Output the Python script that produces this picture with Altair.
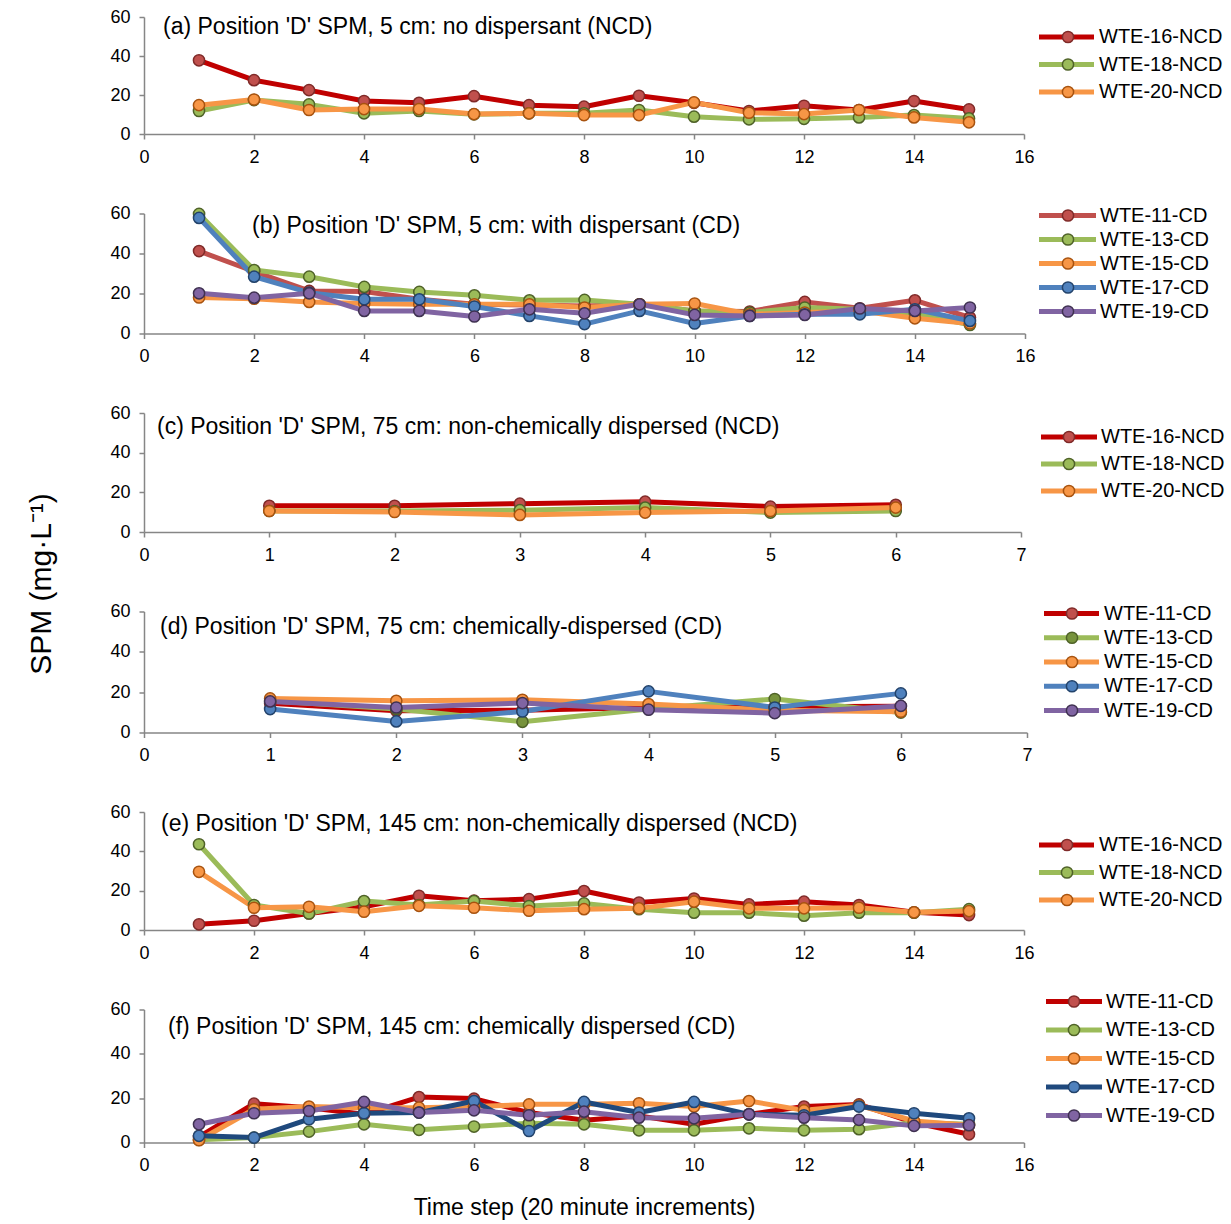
import altair as alt
import pandas as pd

FONT = "Liberation Sans"

# ---------------- data ----------------
t15 = list(range(1, 16))
t6 = list(range(1, 7))

ncd_series = ["WTE-16-NCD", "WTE-18-NCD", "WTE-20-NCD"]
cd_series = ["WTE-11-CD", "WTE-13-CD", "WTE-15-CD", "WTE-17-CD", "WTE-19-CD"]

# (a) 5 cm, NCD
a_16 = [37.8, 27.6, 22.5, 16.9, 16.0, 19.4, 14.8, 14.0, 19.6, 16.0, 11.8, 14.5, 12.3, 16.9, 12.6]
a_18 = [11.8, 17.4, 15.2, 10.6, 11.8, 10.1, 10.6, 10.6, 12.3, 8.9, 7.5, 7.8, 8.5, 9.7, 8.0]
a_20 = [14.8, 17.7, 12.3, 12.8, 12.8, 10.2, 10.6, 9.7, 9.7, 16.2, 10.9, 10.2, 12.3, 8.5, 6.0]

# (b) 5 cm, CD
b_11 = [41.2, 31.0, 21.3, 21.0, 17.1, 14.6, 14.3, 13.8, 14.6, 11.3, 11.0, 15.8, 12.6, 16.6, 8.0]
b_13 = [59.8, 31.7, 28.4, 23.3, 20.8, 19.1, 16.6, 16.8, 14.6, 11.3, 10.5, 13.0, 12.1, 10.0, 4.3]
b_15 = [18.0, 17.4, 15.8, 15.0, 14.6, 14.6, 14.6, 13.0, 14.6, 15.0, 9.6, 10.5, 11.3, 7.6, 5.0]
b_17 = [57.8, 28.4, 20.4, 17.1, 17.1, 13.5, 8.8, 4.7, 11.3, 5.0, 8.8, 9.6, 9.6, 12.1, 6.3]
b_19 = [20.1, 17.9, 20.1, 11.3, 11.3, 8.5, 12.1, 10.1, 14.6, 9.3, 8.8, 9.3, 12.5, 11.3, 13.0]

# (c) 75 cm, NCD
c_16 = [13.2, 13.2, 14.3, 15.3, 12.8, 13.7]
c_18 = [10.6, 10.6, 11.0, 12.3, 9.8, 10.6]
c_20 = [10.6, 10.1, 8.6, 9.8, 10.6, 12.3]

# (d) 75 cm, CD
d_11 = [14.5, 10.8, 11.0, 12.4, 12.8, 13.0]
d_13 = [15.7, 11.6, 5.3, 11.6, 16.6, 9.9]
d_15 = [16.9, 15.7, 16.2, 14.1, 11.0, 10.3]
d_17 = [11.6, 5.5, 10.4, 20.4, 12.4, 19.4]
d_19 = [15.4, 12.4, 14.6, 11.3, 9.6, 13.2]

# (e) 145 cm, NCD
e_16 = [2.9, 4.7, 8.4, 11.8, 17.4, 14.9, 15.7, 19.8, 14.0, 16.0, 13.0, 14.4, 12.7, 9.0, 7.6]
e_18 = [43.6, 12.7, 8.4, 14.7, 12.7, 14.7, 12.2, 13.5, 10.6, 8.8, 8.8, 7.3, 8.8, 8.8, 10.6]
e_20 = [29.6, 11.3, 11.8, 9.3, 12.3, 11.3, 9.8, 10.6, 11.0, 14.4, 11.0, 11.0, 11.3, 9.0, 9.6]

# (f) 145 cm, CD
f_11 = [2.5, 17.5, 15.7, 12.7, 20.5, 19.8, 13.5, 10.0, 12.0, 8.2, 12.7, 16.2, 17.2, 9.0, 3.7]
f_13 = [1.2, 2.2, 4.9, 8.2, 5.7, 7.2, 8.7, 8.2, 5.5, 5.5, 6.4, 5.5, 6.0, 9.0, 8.2]
f_15 = [1.0, 15.0, 16.2, 15.7, 15.7, 16.2, 17.2, 17.2, 17.7, 16.2, 18.7, 14.5, 16.8, 9.7, 7.8]
f_17 = [3.0, 2.2, 10.5, 13.2, 13.5, 18.7, 5.2, 18.3, 13.5, 18.3, 12.7, 12.3, 16.2, 13.2, 10.9]
f_19 = [8.2, 13.2, 14.2, 18.3, 13.5, 14.5, 12.3, 13.9, 11.2, 10.9, 12.7, 11.2, 10.2, 7.5, 7.8]

titles = [
    "(a) Position 'D' SPM, 5 cm: no dispersant (NCD)",
    "(b) Position 'D' SPM, 5 cm: with dispersant (CD)",
    "(c) Position 'D' SPM, 75 cm: non-chemically dispersed (NCD)",
    "(d) Position 'D' SPM, 75 cm: chemically-dispersed (CD)",
    "(e) Position 'D' SPM, 145 cm: non-chemically dispersed (NCD)",
    "(f) Position 'D' SPM, 145 cm: chemically dispersed (CD)",
]

# ---------------- styles ----------------
RED_D, RED, GRN, GRN_D, ORG, BLU, NAVY, PUR = (
    "#C00000", "#C0504D", "#9BBB59", "#77933C", "#F79646", "#4F81BD", "#1F497D", "#8064A2")
S_RED, S_GRN, S_ORG, S_BLU, S_PUR = "#7F2A28", "#4F6228", "#A8530F", "#23436B", "#3F3151"

ncd_line = [RED_D, GRN, ORG]
ncd_fill = [RED, GRN, ORG]
ncd_stroke = [S_RED, S_GRN, S_ORG]

panels = [
    dict(series=ncd_series, vals=[a_16, a_18, a_20], t=t15, xmax=16, step=2,
         line=ncd_line, fill=ncd_fill, stroke=ncd_stroke, h=117, w=880,
         tpos=(19, 10), ly=(20, 75), lx=(895, 950, 924, 955)),
    dict(series=cd_series, vals=[b_11, b_13, b_15, b_17, b_19], t=t15, xmax=16, step=2,
         line=[RED, GRN, ORG, BLU, PUR], fill=[RED, GRN, ORG, BLU, PUR],
         stroke=[S_RED, S_GRN, S_ORG, S_BLU, S_PUR], h=120, w=881,
         tpos=(108, 12), ly=(2, 98), lx=(895, 952, 924, 956)),
    dict(series=ncd_series, vals=[c_16, c_18, c_20], t=t6, xmax=7, step=1,
         line=ncd_line, fill=ncd_fill, stroke=ncd_stroke, h=119, w=877,
         tpos=(13, 14), ly=(24, 78), lx=(897, 953, 925, 957)),
    dict(series=cd_series, vals=[d_11, d_13, d_15, d_17, d_19], t=t6, xmax=7, step=1,
         line=[RED_D, GRN, ORG, BLU, PUR], fill=[RED, GRN_D, ORG, BLU, PUR],
         stroke=[S_RED, S_GRN, S_ORG, S_BLU, S_PUR], h=121, w=883,
         tpos=(16, 15), ly=(2, 99), lx=(900, 955, 928, 960)),
    dict(series=ncd_series, vals=[e_16, e_18, e_20], t=t15, xmax=16, step=2,
         line=ncd_line, fill=ncd_fill, stroke=ncd_stroke, h=118, w=880,
         tpos=(17, 12), ly=(33, 88), lx=(895, 950, 923, 955)),
    dict(series=cd_series, vals=[f_11, f_13, f_15, f_17, f_19], t=t15, xmax=16, step=2,
         line=[RED_D, GRN, ORG, NAVY, PUR], fill=[RED, GRN, ORG, BLU, PUR],
         stroke=[S_RED, S_GRN, S_ORG, S_BLU, S_PUR], h=133, w=880,
         tpos=(24, 17), ly=(-8, 106), lx=(902, 958, 930, 962)),
]

rows = []
for i, p in enumerate(panels):
    recs = []
    for s, v in zip(p["series"], p["vals"]):
        for tt, vv in zip(p["t"], v):
            recs.append({"time": tt, "value": vv, "series": s})
    df = pd.DataFrame(recs)
    sdom = p["series"]

    color_sc = alt.Scale(domain=sdom, range=p["line"])
    fill_sc = alt.Scale(domain=sdom, range=p["fill"])
    stroke_sc = alt.Scale(domain=sdom, range=p["stroke"])

    xaxis_kw = dict(values=list(range(0, p["xmax"] + 1, p["step"])), title=None)
    if i == 5:
        xaxis_kw.update(title="Time step (20 minute increments)", titleFontSize=23,
                        titlePadding=22, titleFontWeight="normal")
    yaxis_kw = dict(values=[0, 20, 40, 60], title=None)
    if i == 3:
        yaxis_kw.update(title="SPM (mg·L⁻¹)", titleFontSize=30, titleFontWeight="normal",
                        titleAngle=270, titleX=-103, titleY=-28, titleAlign="center",
                        titleBaseline="middle")

    x_enc = alt.X("time:Q", scale=alt.Scale(domain=[0, p["xmax"]], nice=False),
                  axis=alt.Axis(**xaxis_kw))
    y_enc = alt.Y("value:Q", scale=alt.Scale(domain=[0, 60], nice=False),
                  axis=alt.Axis(**yaxis_kw))

    base = alt.Chart(df)
    lines = base.mark_line(strokeWidth=5, strokeJoin="round", strokeCap="round").encode(
        x=x_enc, y=y_enc,
        color=alt.Color("series:N", scale=color_sc, legend=None, sort=sdom),
        order=alt.Order("time:Q"),
    )
    pts = base.mark_point(filled=True, size=125, strokeWidth=1.5, opacity=1).encode(
        x=x_enc, y=y_enc,
        fill=alt.Fill("series:N", scale=fill_sc, legend=None),
        stroke=alt.Stroke("series:N", scale=stroke_sc, legend=None),
    )
    ttl = alt.Chart(pd.DataFrame({"label": [titles[i]]})).mark_text(
        align="left", baseline="middle", fontSize=23, font=FONT, color="black"
    ).encode(x=alt.value(p["tpos"][0]), y=alt.value(p["tpos"][1]), text="label:N")

    plot = alt.layer(lines, pts, ttl)

    leg_df = pd.DataFrame({"series": sdom, "idx": list(range(len(sdom)))})
    ly_enc = alt.Y("idx:Q", axis=None,
                   scale=alt.Scale(domain=[0, len(sdom) - 1], range=list(p["ly"]),
                                   nice=False, zero=False))
    x0, x1, xc, xt = p["lx"]
    lb = alt.Chart(leg_df)
    leg_rule = lb.mark_rule(strokeWidth=5, strokeCap="butt").encode(
        x=alt.value(x0), x2=alt.value(x1), y=ly_enc,
        color=alt.Color("series:N", scale=color_sc, legend=None),
    )
    leg_pt = lb.mark_point(filled=True, size=125, strokeWidth=1.5, opacity=1).encode(
        x=alt.value(xc), y=ly_enc,
        fill=alt.Fill("series:N", scale=fill_sc, legend=None),
        stroke=alt.Stroke("series:N", scale=stroke_sc, legend=None),
    )
    leg_txt = lb.mark_text(align="left", baseline="middle", fontSize=20, font=FONT,
                           color="black").encode(x=alt.value(xt), y=ly_enc, text="series:N")
    legend = alt.layer(leg_rule, leg_pt, leg_txt)

    row = alt.layer(plot, legend).resolve_scale(y="independent").properties(
        width=p["w"], height=p["h"])
    rows.append(row)

chart = alt.vconcat(*rows, spacing=79.5, bounds="flush").resolve_scale(
    color="independent", fill="independent", stroke="independent",
    x="independent", y="independent"
).properties(
    padding={"left": 25, "top": 8, "right": 5, "bottom": 5}
).configure(font=FONT).configure_view(strokeWidth=0).configure_axis(
    grid=False, domainColor="#868686", tickColor="#868686", domainWidth=1.5,
    tickWidth=1.5, tickSize=5, labelFontSize=18, labelColor="black",
    labelFont=FONT, labelPadding=9, labelFlush=False, labelOverlap=False,
    titleFont=FONT, titleColor="black",
)

chart.save("out.html", embed_options={"renderer": "svg", "actions": False})
